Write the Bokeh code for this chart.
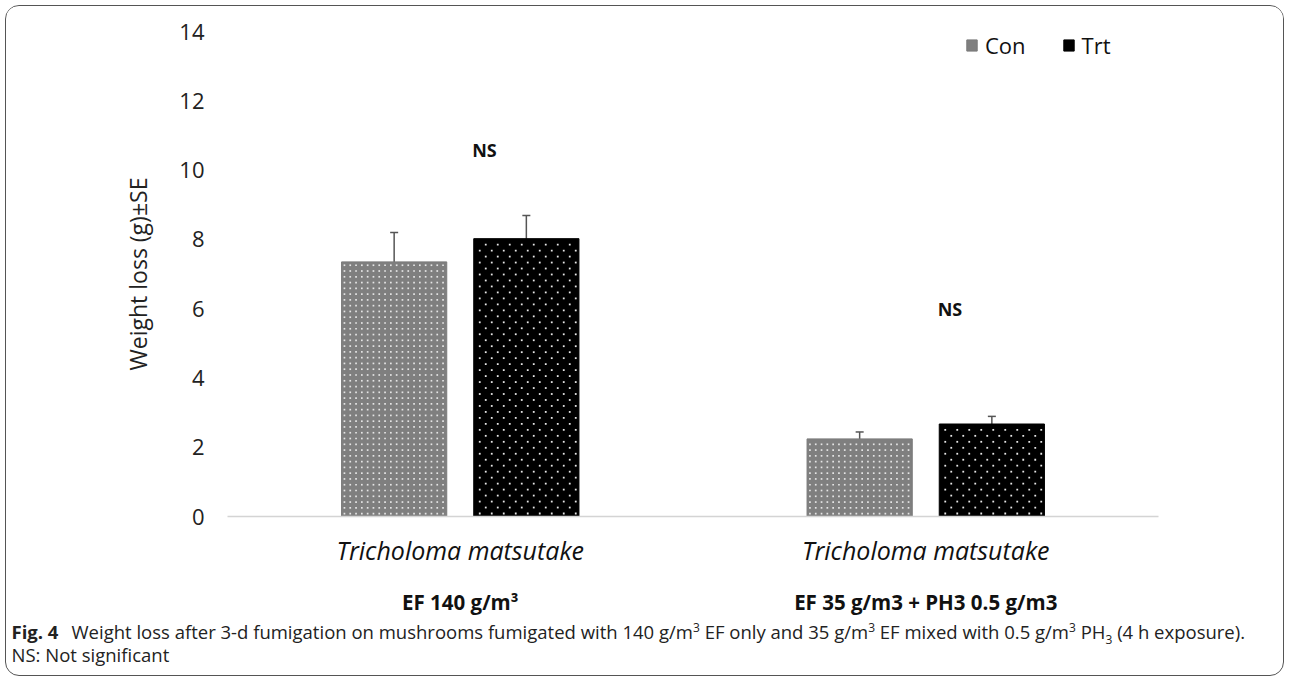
import numpy as np
from bokeh.plotting import figure
from bokeh.layouts import column
from bokeh.models import (ColumnDataSource, Range1d, FixedTicker, LinearAxis,
                          Whisker, TeeHead, Legend, LegendItem, Div)
from bokeh.core.properties import value
from bokeh.embed import file_html
from bokeh.resources import INLINE

# --- data -------------------------------------------------------------
species = ["Tricholoma matsutake", "Tricholoma matsutake"]
treatments = ["EF 140 g/m³", "EF 35 g/m3 + PH3 0.5 g/m3"]
series = ["Con", "Trt"]
con_mean = [7.35, 2.24]
con_se = [0.85, 0.20]
trt_mean = [8.02, 2.67]
trt_se = [0.67, 0.22]
significance = ["NS", "NS"]
sig_height = [10.58, 5.98]
y_ticks = [0, 2, 4, 6, 8, 10, 12, 14]

caption_head = "Fig. 4"
caption_body = ("Weight loss after 3-d fumigation on mushrooms fumigated with 140 g/m<sup>3</sup> "
                "EF only and 35 g/m<sup>3</sup> EF mixed with 0.5 g/m<sup>3</sup> "
                "PH<sub>3</sub> (4 h exposure).")
caption_note = "NS: Not significant"

# --- geometry ----------------------------------------------------------
FONT = "Open Sans"
W = 1277
FRAME_W, FRAME_H = 931, 487
Y_MAX = 14
centers = np.arange(len(treatments)) + 0.5
offset = 0.142
bar_w = 0.226
PX_X = FRAME_W / len(treatments)   # pixels per x unit
PX_Y = FRAME_H / Y_MAX              # pixels per y unit


def dot_texture(xcs, tops, step_x, step_y, stagger):
    """White dot lattice filling each bar (a stippled fill)."""
    xs, ys = [], []
    width_px = bar_w * PX_X
    for xc, top in zip(xcs, tops):
        left = xc - bar_w / 2
        top_px = top * PX_Y
        r = 0
        while (r + 0.5) * step_y < top_px - 2:
            y = (r + 0.5) * step_y / PX_Y
            shift = step_x / 2 if (stagger and r % 2) else 0.0
            cols = np.arange(step_x / 2 + shift, width_px - 1.5, step_x)
            xs.extend(left + cols / PX_X)
            ys.extend([y] * len(cols))
            r += 1
    return xs, ys


con_src = ColumnDataSource(dict(
    x=centers - offset, top=con_mean,
    upper=np.array(con_mean) + np.array(con_se),
    lower=np.array(con_mean) - np.array(con_se)))
trt_src = ColumnDataSource(dict(
    x=centers + offset, top=trt_mean,
    upper=np.array(trt_mean) + np.array(trt_se),
    lower=np.array(trt_mean) - np.array(trt_se)))

p = figure(width=W, height=612, output_backend="svg", toolbar_location=None,
           x_range=Range1d(0, len(treatments)), y_range=Range1d(0, Y_MAX),
           min_border_left=221, min_border_right=W - 221 - FRAME_W, min_border_top=25,
           min_border_bottom=100, background_fill_color="white",
           border_fill_color="white", outline_line_color=None)
p.xgrid.visible = False
p.ygrid.visible = False

r_con = p.vbar(x="x", top="top", width=bar_w, source=con_src,
               fill_color="#7f7f7f", line_color="#7a7a7a", line_width=1)
r_trt = p.vbar(x="x", top="top", width=bar_w, source=trt_src,
               fill_color="black", line_color="black", line_width=1)

cx, cy = dot_texture(con_src.data["x"], con_mean, 5.8, 5.8, False)
p.scatter(cx, cy, marker="square", size=1.7, fill_color="white", fill_alpha=0.8,
          line_color=None)
tx, ty = dot_texture(trt_src.data["x"], trt_mean, 12.0, 6.0, True)
p.scatter(tx, ty, marker="square", size=1.8, fill_color="white", fill_alpha=0.9,
          line_color=None)

for src in (con_src, trt_src):
    w = Whisker(base="x", upper="upper", lower="lower", source=src,
                line_color="#555555", line_width=1.5,
                upper_head=TeeHead(size=8, line_color="#555555", line_width=1.5),
                lower_head=TeeHead(size=8, line_color="#555555", line_width=1.5))
    p.add_layout(w)

p.text(x=centers + 0.052, y=sig_height, text=significance,
       text_font=value(FONT), text_font_style="bold", text_font_size="18px",
       text_align="center", text_baseline="middle", text_color="#111111")

# y axis
p.yaxis.ticker = FixedTicker(ticks=y_ticks)
p.yaxis.axis_line_color = None
p.yaxis.major_tick_line_color = None
p.yaxis.major_tick_out = 0
p.yaxis.minor_tick_line_color = None
p.yaxis.major_label_text_font = FONT
p.yaxis.major_label_text_font_size = "22px"
p.yaxis.major_label_text_color = "#222222"
p.yaxis.major_label_standoff = 23
p.yaxis.axis_label = "Weight loss (g)±SE"
p.yaxis.axis_label_text_font = FONT
p.yaxis.axis_label_text_font_size = "23px"
p.yaxis.axis_label_text_font_style = "normal"
p.yaxis.axis_label_text_color = "#222222"
p.yaxis.axis_label_standoff = 22

# x axis: species names (italic) then treatment (bold)
xa = p.xaxis[0]
xa.ticker = FixedTicker(ticks=list(centers))
xa.major_label_overrides = {float(c): s for c, s in zip(centers, species)}
xa.axis_line_color = "#d4d4d4"
xa.axis_line_width = 1.5
xa.major_tick_line_color = None
xa.major_tick_out = 0
xa.minor_tick_line_color = None
xa.major_label_text_font = FONT
xa.major_label_text_font_style = "italic"
xa.major_label_text_font_size = "25px"
xa.major_label_text_color = "#111111"
xa.major_label_standoff = 16

xb = LinearAxis(ticker=FixedTicker(ticks=list(centers)),
                major_label_overrides={float(c): s for c, s in zip(centers, treatments)},
                axis_line_color=None, major_tick_line_color=None, minor_tick_line_color=None,
                major_tick_out=0,
                major_label_text_font=FONT, major_label_text_font_style="bold",
                major_label_text_font_size="20.5px", major_label_text_color="#111111",
                major_label_standoff=18)
p.add_layout(xb, "below")

legend = Legend(items=[LegendItem(label=series[0], renderers=[r_con]),
                       LegendItem(label=series[1], renderers=[r_trt])],
                orientation="horizontal", location=(738, 456),
                border_line_color=None, background_fill_alpha=0,
                label_text_font=FONT, label_text_font_size="22px",
                label_text_color="#111111", glyph_width=13, glyph_height=14,
                spacing=36, padding=0, margin=0, label_standoff=7)
p.add_layout(legend)

# figure caption under the chart
caption_html = (
    f'<span style="font-weight:bold;display:inline-block;width:60px">{caption_head}</span>'
    f'{caption_body}<br>{caption_note}'
)
cap = Div(text=caption_html, width=W, height=57, margin=0,
          styles={"font-family": "Open Sans", "font-size": "18.5px", "color": "#222222",
                  "line-height": "23px", "padding-left": "5.5px", "padding-top": "2px",
                  "box-sizing": "border-box", "white-space": "nowrap"},
          stylesheets=[":host sup, :host sub, sup, sub {font-size:65%; line-height:0;}"])

page = column(p, cap, spacing=0, margin=(5, 5, 5, 5),
              styles={"border": "1.5px solid #555555", "border-radius": "14px",
                      "overflow": "hidden"})

open("out.html", "w").write(file_html(page, INLINE))
